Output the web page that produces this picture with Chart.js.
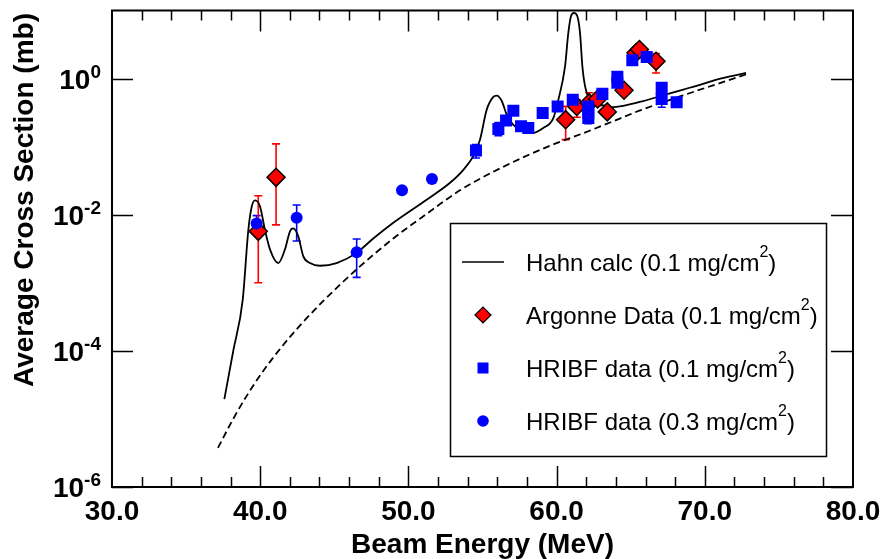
<!DOCTYPE html>
<html>
<head>
<meta charset="utf-8">
<script src="https://cdn.jsdelivr.net/npm/chart.js@4.4.0/dist/chart.umd.min.js"></script>
<style>
  html, body { margin: 0; padding: 0; background: #fff; }
</style>
</head>
<body>
<canvas id="chart" width="883" height="559"></canvas>
<script>
// Hahn calculation (solid line), cross section in mb vs beam energy in MeV
const hahnEnergy = [37.58, 38.19, 38.82, 39.2, 39.43, 39.65, 39.99, 40.32, 40.66, 41.22, 41.67, 42.01, 42.23, 42.57, 42.91,
  43.36, 44.03, 45.16, 46.51, 47.41, 48.98, 51.23, 52.81, 53.71, 54.38, 54.83, 55.28, 55.73, 55.96, 56.3, 56.63, 57.08,
  57.75, 58.32, 59.1, 59.78, 60.12, 60.57, 60.79, 60.97, 61.17, 61.4, 61.58, 61.74, 61.92, 62.25, 62.93, 63.72, 64.5,
  65.85, 66.98, 68.55, 69.68, 70.8, 72.78];
const hahnSigma = [1.95e-5, 1.02e-4, 5.6e-4, 6.0e-3, 0.0132, 0.0162, 0.0132, 6.0e-3, 3.1e-3, 1.95e-3, 3.1e-3, 5.7e-3, 6.3e-3,
  4.8e-3, 2.45e-3, 1.95e-3, 1.78e-3, 1.95e-3, 2.75e-3, 4.07e-3, 7.6e-3, 0.0166, 0.0295, 0.0457, 0.0724, 0.126, 0.347, 0.537,
  0.562, 0.468, 0.295, 0.209, 0.168, 0.158, 0.188, 0.263, 0.49, 1.51, 4.68, 8.24, 9.25, 8.24, 4.68, 1.51, 0.776, 0.49, 0.417,
  0.38, 0.398, 0.468, 0.55, 0.69, 0.81, 0.966, 1.21];

// dashed curve (no resonances)
const smoothEnergy = [37.15, 38.16, 39.11, 40.19, 41.54, 42.89, 44.24, 45.18, 46.73, 48.96, 51.26, 53.48, 56.18, 59.55,
  61.78, 63.6, 65.63, 68.53, 72.78];
const smoothSigma = [3.75e-6, 9.84e-6, 2.22e-5, 5.01e-5, 1.21e-4, 2.64e-4, 5.36e-4, 8.49e-4, 1.74e-3, 4.44e-3, 0.0104,
  0.0228, 0.0479, 0.103, 0.157, 0.226, 0.340, 0.566, 1.15];

// Argonne data (0.1 mg/cm2)
const argonneEnergy = [39.87, 41.07, 60.61, 61.36, 62.2, 62.77, 63.42, 64.55, 65.36, 65.59, 66.71];
const argonneSigma = [0.0057, 0.0354, 0.249, 0.39, 0.44, 0.50, 0.324, 0.673, 2.39, 2.67, 1.80];
const argonneLow = [0.001, 0.0071, 0.127, 0.27, 0.33, 0.40, 0.28, 0.58, 2.1, 2.4, 1.21];
const argonneHigh = [0.019, 0.11, 0.39, 0.49, 0.62, 0.60, 0.37, 0.78, 2.7, 2.95, 2.33];

// HRIBF data (0.1 mg/cm2)
const thinEnergy = [54.56, 56.07, 56.59, 57.08, 57.6, 58.09, 59.06, 60.07, 61.09, 62.14, 62.14, 62.14, 63.09, 64.1, 64.1,
  65.11, 66.08, 67.09, 67.09, 68.1];
const thinSigma = [0.088, 0.182, 0.243, 0.338, 0.199, 0.188, 0.313, 0.39, 0.49, 0.39, 0.31, 0.264, 0.596, 1.06, 0.865,
  1.86, 2.08, 0.73, 0.50, 0.448];
const thinLow = [0.068, 0.145, 0.215, 0.30, 0.18, 0.17, 0.29, 0.36, 0.45, 0.35, 0.28, 0.218, 0.55, 0.98, 0.80,
  1.75, 1.95, 0.66, 0.38, 0.41];
const thinHigh = [0.107, 0.226, 0.27, 0.37, 0.22, 0.21, 0.34, 0.42, 0.53, 0.43, 0.34, 0.30, 0.64, 1.14, 0.93,
  1.97, 2.2, 0.80, 0.58, 0.49];

// HRIBF data (0.3 mg/cm2)
const thickEnergy = [39.76, 42.46, 46.51, 49.57, 51.59];
const thickSigma = [0.0074, 0.0090, 0.0028, 0.0229, 0.0335];
const thickLow = [0.0054, 0.0041, 0.0012, 0.0205, 0.030];
const thickHigh = [0.0097, 0.0139, 0.0044, 0.0255, 0.037];

const xTickValues = [30, 40, 50, 60, 70, 80];
const xTickLabels = ['30.0', '40.0', '50.0', '60.0', '70.0', '80.0'];
const yTickValues = [1, 1e-2, 1e-4, 1e-6];
const yTickExponents = ['0', '-2', '-4', '-6'];
const legendLabels = ['Hahn calc (0.1 mg/cm', 'Argonne Data (0.1 mg/cm', 'HRIBF data (0.1 mg/cm', 'HRIBF data (0.3 mg/cm'];

const RED = '#ff0000';
const BLUE = '#0000ff';
const FONT = '"Liberation Sans", Arial, sans-serif';

const toPoints = (xs, ys) => xs.map((x, i) => ({ x: x, y: ys[i] }));

// error bars go under the markers
const errorBars = {
  id: 'errorBars',
  beforeDatasetsDraw(chart) {
    const { ctx, scales: { x, y } } = chart;
    ctx.save();
    ctx.lineWidth = 1.6;
    chart.data.datasets.forEach(ds => {
      if (!ds.errLow) return;
      ctx.strokeStyle = ds.errColor;
      ds.data.forEach((p, i) => {
        const px = x.getPixelForValue(p.x);
        const lo = y.getPixelForValue(ds.errLow[i]);
        const hi = y.getPixelForValue(ds.errHigh[i]);
        ctx.beginPath();
        ctx.moveTo(px, lo); ctx.lineTo(px, hi);
        ctx.moveTo(px - 4, lo); ctx.lineTo(px + 4, lo);
        ctx.moveTo(px - 4, hi); ctx.lineTo(px + 4, hi);
        ctx.stroke();
      });
    });
    ctx.restore();
  }
};

// frame, inward ticks, tick labels, axis titles, boxed legend
const decorations = {
  id: 'decorations',
  afterDraw(chart) {
    const { ctx, chartArea: a, scales: { x, y } } = chart;
    ctx.save();
    ctx.strokeStyle = '#000';
    ctx.lineWidth = 2;
    ctx.strokeRect(a.left, a.top, a.right - a.left, a.bottom - a.top);

    ctx.lineWidth = 1.5;
    ctx.beginPath();
    for (let e = 32; e < 80; e += 2) {
      const px = Math.round(x.getPixelForValue(e)) + 0.5;
      const len = xTickValues.includes(e) ? 21 : 10;
      ctx.moveTo(px, a.top); ctx.lineTo(px, a.top + len);
      ctx.moveTo(px, a.bottom); ctx.lineTo(px, a.bottom - len);
    }
    yTickValues.forEach(v => {
      const py = Math.round(y.getPixelForValue(v)) + 0.5;
      ctx.moveTo(a.left, py); ctx.lineTo(a.left + 21, py);
      ctx.moveTo(a.right, py); ctx.lineTo(a.right - 22, py);
    });
    ctx.stroke();

    ctx.fillStyle = '#000';
    ctx.font = 'bold 28px ' + FONT;
    ctx.textBaseline = 'alphabetic';
    ctx.textAlign = 'center';
    xTickValues.forEach((v, i) => {
      ctx.fillText(xTickLabels[i], x.getPixelForValue(v), 520);
    });

    ctx.textAlign = 'left';
    yTickValues.forEach((v, i) => {
      const py = y.getPixelForValue(v);
      ctx.font = 'bold 19px ' + FONT;
      const supW = ctx.measureText(yTickExponents[i]).width;
      ctx.font = 'bold 28px ' + FONT;
      const baseW = ctx.measureText('10').width;
      const right = 101;
      ctx.fillText('10', right - supW - baseW, py + 10);
      ctx.font = 'bold 19px ' + FONT;
      ctx.fillText(yTickExponents[i], right - supW, py - 1);
    });

    ctx.font = 'bold 28px ' + FONT;
    ctx.textAlign = 'center';
    ctx.fillText('Beam Energy (MeV)', (a.left + a.right) / 2, 553);
    ctx.save();
    ctx.translate(33, 200);
    ctx.rotate(-Math.PI / 2);
    ctx.fillText('Average Cross Section (mb)', 0, 0);
    ctx.restore();

    // legend box
    ctx.lineWidth = 1.5;
    ctx.strokeRect(450.5, 223.5, 376, 233);
    const rows = [262, 315, 368, 421];
    const sx = 483;
    ctx.lineWidth = 1.3;
    ctx.beginPath();
    ctx.moveTo(462, rows[0]); ctx.lineTo(504, rows[0]);
    ctx.stroke();
    ctx.lineWidth = 1.2;
    ctx.fillStyle = RED;
    ctx.beginPath();
    ctx.moveTo(sx - 8, rows[1]); ctx.lineTo(sx, rows[1] - 8); ctx.lineTo(sx + 8, rows[1]); ctx.lineTo(sx, rows[1] + 8);
    ctx.closePath(); ctx.fill(); ctx.stroke();
    ctx.fillStyle = BLUE;
    ctx.fillRect(sx - 5.5, rows[2] - 5.5, 11, 11);
    ctx.beginPath(); ctx.arc(sx, rows[3], 5.8, 0, Math.PI * 2); ctx.fill();

    ctx.fillStyle = '#000';
    ctx.textAlign = 'left';
    legendLabels.forEach((t, i) => {
      const base = rows[i] + 9;
      ctx.font = '24px ' + FONT;
      ctx.fillText(t, 526, base);
      let w = ctx.measureText(t).width;
      ctx.font = '16px ' + FONT;
      ctx.fillText('2', 526 + w, base - 14);
      w += ctx.measureText('2').width;
      ctx.font = '24px ' + FONT;
      ctx.fillText(')', 526 + w, base);
    });
    ctx.restore();
  }
};

new Chart(document.getElementById('chart'), {
  type: 'scatter',
  data: {
    datasets: [
      {
        label: 'HRIBF data (0.3 mg/cm2)',
        data: toPoints(thickEnergy, thickSigma),
        errLow: thickLow, errHigh: thickHigh, errColor: BLUE,
        pointStyle: 'circle', pointRadius: 6, backgroundColor: BLUE, borderColor: BLUE, borderWidth: 0,
        order: 1
      },
      {
        label: 'HRIBF data (0.1 mg/cm2)',
        data: toPoints(thinEnergy, thinSigma),
        errLow: thinLow, errHigh: thinHigh, errColor: BLUE,
        pointStyle: 'rect', pointRadius: 8.5, backgroundColor: BLUE, borderColor: BLUE, borderWidth: 0,
        order: 2
      },
      {
        label: 'Argonne Data (0.1 mg/cm2)',
        data: toPoints(argonneEnergy, argonneSigma),
        errLow: argonneLow, errHigh: argonneHigh, errColor: RED,
        pointStyle: 'rectRot', pointRadius: 9, backgroundColor: RED, borderColor: '#000', borderWidth: 1.5,
        order: 3
      },
      {
        label: 'Hahn calc (0.1 mg/cm2)',
        data: toPoints(hahnEnergy, hahnSigma),
        showLine: true, pointRadius: 0, borderColor: '#000', borderWidth: 1.8,
        cubicInterpolationMode: 'monotone', order: 4
      },
      {
        label: 'no resonance',
        data: toPoints(smoothEnergy, smoothSigma),
        showLine: true, pointRadius: 0, borderColor: '#000', borderWidth: 1.8, borderDash: [7, 4],
        cubicInterpolationMode: 'monotone', order: 5
      }
    ]
  },
  options: {
    responsive: false,
    animation: false,
    layout: { padding: { left: 112, right: 30, top: 10, bottom: 72 } },
    plugins: { legend: { display: false }, tooltip: { enabled: false } },
    scales: {
      x: { type: 'linear', min: 30, max: 80, display: false },
      y: { type: 'logarithmic', min: 1e-6, max: 10, display: false }
    }
  },
  plugins: [errorBars, decorations]
});
</script>
</body>
</html>
